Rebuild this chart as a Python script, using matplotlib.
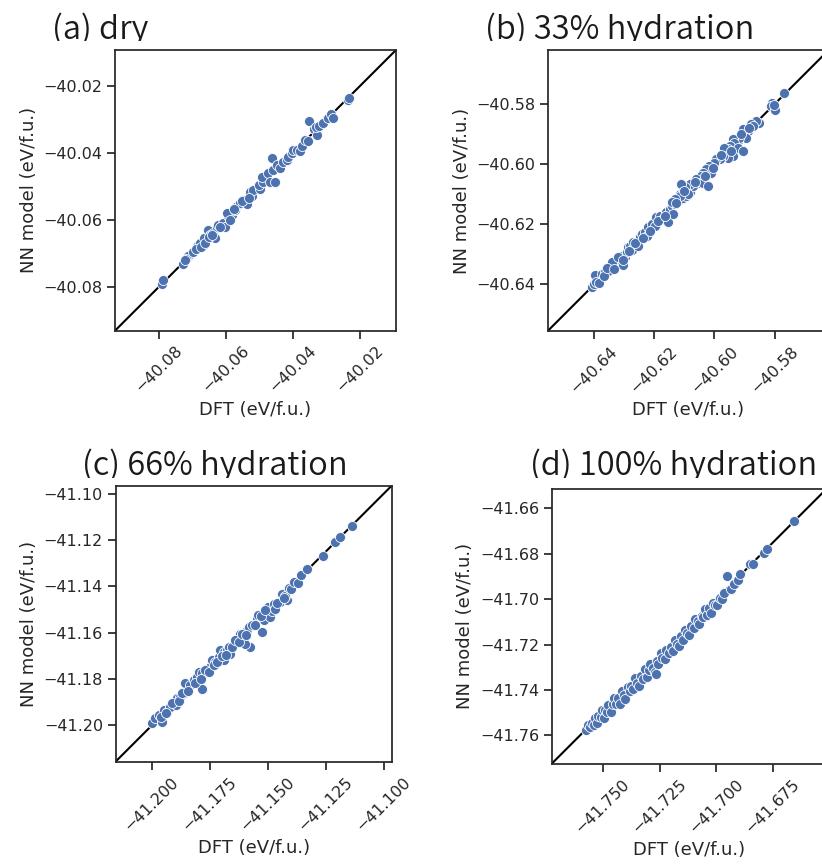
import matplotlib
matplotlib.use("Agg")
import matplotlib.pyplot as plt
import seaborn as sns
from matplotlib.ticker import MultipleLocator, ScalarFormatter
from matplotlib.transforms import Bbox, TransformedBbox

sns.set_theme(style="ticks")
plt.rcParams['font.family'] = ['DejaVu Sans']

# ---------------- data: DFT vs NN energies (eV/f.u.) ----------------
a_dft = [-40.0792, -40.0787, -40.0729, -40.0714, -40.0719, -40.0688, -40.0683, -40.0678,
         -40.0663, -40.0665, -40.0653, -40.0648, -40.0638, -40.0628, -40.0623, -40.0633,
         -40.0608, -40.0603, -40.0593, -40.0583, -40.0598, -40.0568, -40.0573, -40.0558,
         -40.0548, -40.0538, -40.0523, -40.0528, -40.0518, -40.0500, -40.0503, -40.0489,
         -40.0493, -40.0474, -40.0469, -40.0454, -40.0464, -40.0459, -40.0449, -40.0439,
         -40.0429, -40.0419, -40.0414, -40.0404, -40.0399, -40.0389, -40.0379, -40.0374,
         -40.0364, -40.0354, -40.0351, -40.0339, -40.0329, -40.0331, -40.0324, -40.0311,
         -40.0297, -40.0287, -40.0280, -40.0235, -40.0232,
         -40.0722, -40.0698, -40.0690, -40.0676, -40.0663, -40.0650, -40.0641, -40.0618,
         -40.0588, -40.0576, -40.0553, -40.0531]
a_nn = [-40.0792, -40.0781, -40.0731, -40.0709, -40.0716, -40.0685, -40.0675, -40.0670,
        -40.0672, -40.0655, -40.0630, -40.0645, -40.0640, -40.0620, -40.0615, -40.0655,
        -40.0610, -40.0620, -40.0590, -40.0585, -40.0580, -40.0560, -40.0570, -40.0550,
        -40.0540, -40.0553, -40.0530, -40.0518, -40.0510, -40.0508, -40.0496, -40.0486,
        -40.0471, -40.0461, -40.0486, -40.0486, -40.0416, -40.0451, -40.0436, -40.0446,
        -40.0426, -40.0421, -40.0411, -40.0401, -40.0391, -40.0391, -40.0396, -40.0381,
        -40.0361, -40.0366, -40.0304, -40.0329, -40.0346, -40.0323, -40.0321, -40.0310,
        -40.0295, -40.0284, -40.0297, -40.0242, -40.0235,
        -40.0719, -40.0695, -40.0688, -40.0680, -40.0668, -40.0650, -40.0645, -40.0620,
        -40.0600, -40.0568, -40.0545, -40.0535]

b_dft = [-40.6408, -40.6402, -40.6391, -40.6380, -40.6397, -40.6375, -40.6364, -40.6353,
         -40.6342, -40.6331, -40.6325, -40.6314, -40.6309, -40.6298, -40.6292, -40.6287,
         -40.6281, -40.6270, -40.6259, -40.6248, -40.6242, -40.6231, -40.6226, -40.6220,
         -40.6209, -40.6198, -40.6193, -40.6182, -40.6171, -40.6160, -40.6149, -40.6143,
         -40.6132, -40.6121, -40.6116, -40.6105, -40.6094, -40.6083, -40.6154, -40.6138,
         -40.6276, -40.6342, -40.6303, -40.6253,
         -40.5769, -40.5807, -40.5813, -40.5798, -40.5802, -40.5851, -40.5862, -40.5879,
         -40.5873, -40.5890, -40.5901, -40.5895, -40.5906, -40.5923, -40.5917, -40.5939,
         -40.5934, -40.5950, -40.5956, -40.5967, -40.5923, -40.5906, -40.5939, -40.5956,
         -40.5972, -40.5983, -40.5994, -40.6000, -40.6017, -40.6011, -40.6028, -40.6039,
         -40.6044, -40.6061, -40.6055, -40.6039, -40.6022, -40.6072, -40.6083, -40.6099,
         -40.6110, -40.6105, -40.6088, -40.6116, -40.6132, -40.6143,
         -40.6395, -40.6385, -40.6368, -40.6358, -40.6336, -40.6320, -40.6304, -40.6284,
         -40.6265, -40.6237, -40.6215, -40.6188, -40.6165, -40.6127, -40.6100, -40.6066,
         -40.6033, -40.6005, -40.5978, -40.5945, -40.5912, -40.5884]
b_nn = [-40.6409, -40.6398, -40.6387, -40.6376, -40.6370, -40.6365, -40.6359, -40.6354,
        -40.6343, -40.6332, -40.6315, -40.6320, -40.6304, -40.6309, -40.6293, -40.6276,
        -40.6271, -40.6260, -40.6254, -40.6243, -40.6232, -40.6227, -40.6238, -40.6210,
        -40.6199, -40.6204, -40.6177, -40.6171, -40.6182, -40.6160, -40.6149, -40.6138,
        -40.6133, -40.6122, -40.6099, -40.6111, -40.6105, -40.6094, -40.6193, -40.6166,
        -40.6287, -40.6326, -40.6337, -40.6271,
        -40.5762, -40.5796, -40.5807, -40.5818, -40.5804, -40.5862, -40.5856, -40.5867,
        -40.5873, -40.5890, -40.5895, -40.5912, -40.5884, -40.5923, -40.5912, -40.5917,
        -40.5928, -40.5939, -40.5948, -40.5945, -40.5945, -40.5956, -40.5972, -40.5978,
        -40.5972, -40.5983, -40.5983, -40.5997, -40.6006, -40.6028, -40.6017, -40.6028,
        -40.6039, -40.6050, -40.6061, -40.6061, -40.6072, -40.6072, -40.6066, -40.6077,
        -40.6066, -40.6094, -40.6099, -40.6105, -40.6116, -40.6125,
        -40.6392, -40.6395, -40.6372, -40.6346, -40.6348, -40.6310, -40.6318, -40.6290,
        -40.6262, -40.6245, -40.6222, -40.6188, -40.6174, -40.6130, -40.6088, -40.6060,
        -40.6040, -40.6012, -40.5968, -40.5955, -40.5900, -40.5878]

c_dft = [-41.1999, -41.1985, -41.1970, -41.1949, -41.1956, -41.1934, -41.1920, -41.1906,
         -41.1891, -41.1898, -41.1877, -41.1863, -41.1848, -41.1855, -41.1834, -41.1820,
         -41.1805, -41.1784, -41.1798, -41.1784, -41.1762, -41.1748, -41.1741, -41.1726,
         -41.1712, -41.1705, -41.1690, -41.1676, -41.1690, -41.1669, -41.1662, -41.1647,
         -41.1633, -41.1619, -41.1604, -41.1590, -41.1583, -41.1575, -41.1597, -41.1561,
         -41.1547, -41.1540, -41.1525, -41.1518, -41.1504, -41.1489, -41.1497, -41.1482,
         -41.1475, -41.1468, -41.1446, -41.1418,
         -41.1440, -41.1425, -41.1410, -41.1400, -41.1385, -41.1370, -41.1355, -41.1330,
         -41.1262, -41.1210, -41.1188, -41.1138,
         -41.1960, -41.1940, -41.1912, -41.1885, -41.1870, -41.1842, -41.1812, -41.1790,
         -41.1770, -41.1755, -41.1733, -41.1718, -41.1698, -41.1680, -41.1655, -41.1640,
         -41.1625, -41.1610, -41.1595, -41.1570, -41.1555, -41.1530, -41.1510, -41.1460,
         -41.1430]
c_nn = [-41.1989, -41.1970, -41.1956, -41.1934, -41.1985, -41.1941, -41.1920, -41.1898,
        -41.1884, -41.1913, -41.1877, -41.1862, -41.1848, -41.1819, -41.1827, -41.1805,
        -41.1791, -41.1841, -41.1769, -41.1776, -41.1762, -41.1748, -41.1719, -41.1726,
        -41.1705, -41.1676, -41.1683, -41.1676, -41.1719, -41.1662, -41.1690, -41.1647,
        -41.1633, -41.1604, -41.1618, -41.1590, -41.1575, -41.1662, -41.1647, -41.1561,
        -41.1539, -41.1525, -41.1597, -41.1547, -41.1518, -41.1532, -41.1489, -41.1504,
        -41.1475, -41.1496, -41.1468, -41.1460,
        -41.1432, -41.1440, -41.1405, -41.1412, -41.1380, -41.1385, -41.1350, -41.1325,
        -41.1268, -41.1208, -41.1185, -41.1137,
        -41.1962, -41.1948, -41.1905, -41.1895, -41.1860, -41.1850, -41.1818, -41.1800,
        -41.1760, -41.1770, -41.1740, -41.1728, -41.1700, -41.1695, -41.1660, -41.1632,
        -41.1640, -41.1605, -41.1610, -41.1568, -41.1565, -41.1528, -41.1502, -41.1470,
        -41.1450]

d_dft = [-41.7572, -41.7565, -41.7555, -41.7548, -41.7540, -41.7535, -41.7525, -41.7520,
         -41.7510, -41.7505, -41.7495, -41.7490, -41.7480, -41.7475, -41.7465, -41.7455,
         -41.7450, -41.7440, -41.7432, -41.7425, -41.7415, -41.7408, -41.7400, -41.7390,
         -41.7382, -41.7375, -41.7365, -41.7358, -41.7350, -41.7340, -41.7332, -41.7325,
         -41.7315, -41.7305, -41.7298, -41.7290, -41.7280, -41.7272, -41.7262, -41.7255,
         -41.7245, -41.7238, -41.7265, -41.7228, -41.7220, -41.7210, -41.7200, -41.7192,
         -41.7182, -41.7175, -41.7165, -41.7155, -41.7148, -41.7138, -41.7130, -41.7120,
         -41.7112, -41.7100, -41.7092, -41.7082, -41.7075, -41.7065, -41.7058, -41.7048,
         -41.7040, -41.7030, -41.7022, -41.7015, -41.7005, -41.6995, -41.6985, -41.6975,
         -41.6968, -41.6955, -41.6935, -41.6920, -41.6905, -41.6895, -41.6850, -41.6838,
         -41.6790, -41.6775, -41.6658]
d_nn = [-41.7575, -41.7555, -41.7563, -41.7544, -41.7555, -41.7523, -41.7547, -41.7517,
        -41.7521, -41.7490, -41.7522, -41.7490, -41.7498, -41.7466, -41.7496, -41.7461,
        -41.7436, -41.7464, -41.7434, -41.7460, -41.7404, -41.7424, -41.7440, -41.7385,
        -41.7404, -41.7383, -41.7398, -41.7346, -41.7369, -41.7382, -41.7337, -41.7353,
        -41.7306, -41.7341, -41.7312, -41.7287, -41.7305, -41.7319, -41.7272, -41.7287,
        -41.7239, -41.7258, -41.7330, -41.7266, -41.7224, -41.7237, -41.7212, -41.7227,
        -41.7180, -41.7198, -41.7206, -41.7164, -41.7178, -41.7134, -41.7148, -41.7157,
        -41.7118, -41.7126, -41.7089, -41.7097, -41.7108, -41.7073, -41.7079, -41.7043,
        -41.7069, -41.7041, -41.7060, -41.7018, -41.7025, -41.7027, -41.6995, -41.6999,
        -41.6974, -41.6900, -41.6957, -41.6935, -41.6917, -41.6890, -41.6845, -41.6844,
        -41.6797, -41.6780, -41.6656]

titles = ["(a) dry", "(b) 33% hydration", "(c) 66% hydration", "(d) 100% hydration"]
limits = [(-40.0931, -40.0093), (-40.6555, -40.5620),
          (-41.2157, -41.0965), (-41.7725, -41.6515)]
xsteps = [0.02, 0.02, 0.025, 0.025]
ysteps = [0.02, 0.02, 0.02, 0.02]

# ---------------- layout (pixels) ----------------
W, H = 822, 866
fig = plt.figure(figsize=(W / 100, H / 100), dpi=100)

boxes = [(115, 50, 396, 330.7), (547.7, 50, 828.7, 331),
         (115.5, 485.7, 391.7, 761.7), (551.7, 489, 826.4, 763.7)]
title_pos = [(52, 39, 41), (485, 39, 41), (82, 475, 478), (530, 475, 478)]

ink = '.15'
datasets = [(a_dft, a_nn), (b_dft, b_nn), (c_dft, c_nn), (d_dft, d_nn)]

for i, (dft, nn) in enumerate(datasets):
    l, t, r, b = boxes[i]
    ax = fig.add_axes([l / W, 1 - b / H, (r - l) / W, (b - t) / H])
    lo, hi = limits[i]
    ax.plot([lo, hi], [lo, hi], color='black', lw=1.5, zorder=1)
    sns.scatterplot(x=dft, y=nn, ax=ax, color='#4C72B0', s=52,
                    edgecolor='white', linewidth=0.6, zorder=2)
    ax.set_xlim(lo, hi)
    ax.set_ylim(lo, hi)
    ax.xaxis.set_major_locator(MultipleLocator(xsteps[i]))
    ax.yaxis.set_major_locator(MultipleLocator(ysteps[i]))
    for axis in (ax.xaxis, ax.yaxis):
        axis.set_major_formatter(ScalarFormatter(useOffset=False))
    ax.tick_params(axis='both', labelsize=11.5, length=5.5, width=1.25,
                   color=ink, labelcolor=ink)
    ax.tick_params(axis='x', labelrotation=45)
    for sp in ax.spines.values():
        sp.set_linewidth(1.25)
        sp.set_color(ink)
    ax.set_xlabel("DFT (eV/f.u.)", fontsize=13, color=ink)
    ax.set_ylabel("NN model (eV/f.u.)", fontsize=13, color=ink)

    tx, base, clip = title_pos[i]
    txt = fig.text(tx / W, 1 - base / H, titles[i], fontsize=23.5,
                   family=['Noto Sans CJK JP', 'DejaVu Sans'], weight=350,
                   ha='left', va='baseline', color='#1a1a1a')
    clip_box = TransformedBbox(Bbox.from_extents(0, 1 - clip / H, 1, 1), fig.transFigure)
    txt.set_clip_box(clip_box)
    txt.set_clip_on(True)

fig.savefig("out.png", dpi=100)
